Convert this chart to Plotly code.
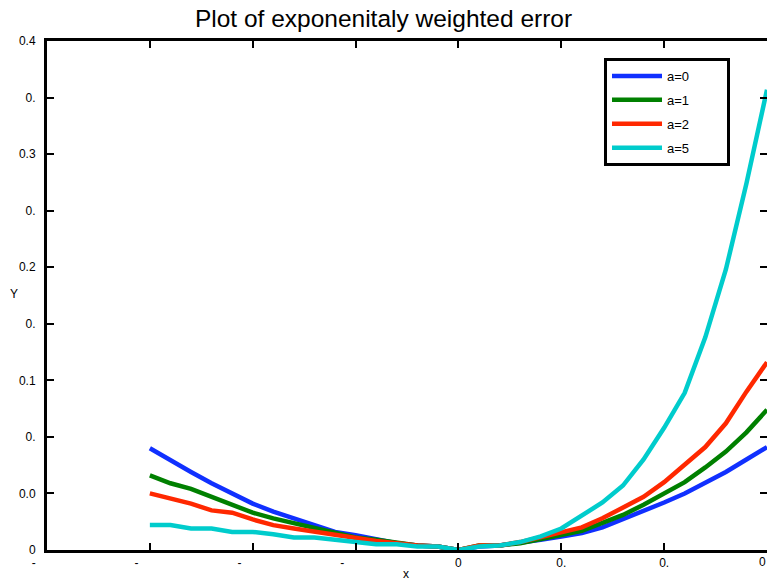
import plotly.graph_objects as go

# x grid: -0.6 .. 0.6 step 0.04 (31 points)
x_vals = [-0.60, -0.56, -0.52, -0.48, -0.44, -0.40, -0.36, -0.32, -0.28, -0.24,
          -0.20, -0.16, -0.12, -0.08, -0.04, 0.00, 0.04, 0.08, 0.12, 0.16,
          0.20, 0.24, 0.28, 0.32, 0.36, 0.40, 0.44, 0.48, 0.52, 0.56, 0.60]

y_a0 = [0.090, 0.079, 0.069, 0.059, 0.050, 0.041, 0.034, 0.028, 0.023, 0.016,
        0.013, 0.009, 0.006, 0.004, 0.003, 0.000, 0.003, 0.004, 0.006, 0.009,
        0.012, 0.015, 0.020, 0.027, 0.034, 0.042, 0.050, 0.059, 0.069, 0.080, 0.091]

y_a1 = [0.066, 0.059, 0.054, 0.047, 0.040, 0.033, 0.028, 0.024, 0.019, 0.015,
        0.011, 0.009, 0.006, 0.004, 0.003, 0.000, 0.004, 0.004, 0.006, 0.010,
        0.013, 0.017, 0.024, 0.031, 0.040, 0.050, 0.060, 0.073, 0.087, 0.104, 0.124]

y_a2 = [0.050, 0.046, 0.041, 0.035, 0.033, 0.027, 0.022, 0.019, 0.016, 0.013,
        0.011, 0.008, 0.006, 0.004, 0.003, 0.000, 0.004, 0.004, 0.007, 0.011,
        0.015, 0.020, 0.028, 0.037, 0.047, 0.060, 0.075, 0.091, 0.112, 0.140, 0.166]

y_a5 = [0.022, 0.022, 0.019, 0.019, 0.016, 0.016, 0.014, 0.011, 0.011, 0.009,
        0.007, 0.005, 0.005, 0.003, 0.003, 0.000, 0.003, 0.004, 0.007, 0.012,
        0.019, 0.031, 0.042, 0.057, 0.080, 0.108, 0.139, 0.188, 0.248, 0.324, 0.407]

series_names = ["a=0", "a=1", "a=2", "a=5"]
series_colors = ["#1030ff", "#008000", "#ff2800", "#00cccc"]

x_tickvals = [-0.8, -0.6, -0.4, -0.2, 0.0, 0.2, 0.4, 0.6]
NB = "\u00a0"
x_ticktext = ["-" + NB * 8, "-" + NB * 8, "-" + NB * 8, "-" + NB * 8, "0", "0.", "0.", "0"]

y_tickvals = [0.0, 0.05, 0.10, 0.15, 0.20, 0.25, 0.30, 0.35, 0.40, 0.45]
y_ticktext = ["0", "0.0", "0.", "0.1", "0.", "0.2", "0.", "0.3", "0.", "0.4"]

FONT = "Liberation Sans, Arial, sans-serif"

L, R, T, B = 47, 0, 41, 32
PW, PH = 767 - L - R, 582 - T - B

fig = go.Figure()
for name, ys, col in zip(series_names, [y_a0, y_a1, y_a2, y_a5], series_colors):
    fig.add_trace(go.Scatter(x=x_vals, y=ys, mode="lines", name=name + NB * 9,
                             legendgroup=name,
                             line=dict(color=col, width=4.5)))

# the last tick label sits at the window edge: draw it as right-anchored text
shown_ticktext = x_ticktext[:-1] + [""]

fig.update_layout(
    width=767, height=582,
    margin=dict(l=L, r=R, t=T, b=B, autoexpand=False),
    paper_bgcolor="white", plot_bgcolor="white",
    font=dict(family=FONT, size=12, color="black"),
    title=dict(text="Plot of exponenitaly weighted error", x=0.5, xref="container",
               xanchor="center", y=(582 - 18) / 582, yref="container", yanchor="middle",
               font=dict(family=FONT, size=24.5, color="black")),
    showlegend=True,
    legend=dict(x=(604 - L) / PW, y=(582 - B - 58) / PH, xanchor="left", yanchor="top",
                bordercolor="black", borderwidth=3, bgcolor="white",
                font=dict(family=FONT, size=13, color="black"),
                tracegroupgap=4, itemwidth=50),
    xaxis=dict(range=[-0.8, 0.6], tickvals=x_tickvals, ticktext=shown_ticktext,
               automargin=False,
               showgrid=False, zeroline=False, showline=True, linecolor="black",
               linewidth=3, mirror="ticks", ticks="inside", ticklen=7, tickwidth=2,
               tickcolor="black", tickangle=0,
               tickfont=dict(family=FONT, size=12, color="black")),
    yaxis=dict(range=[0, 0.45], tickvals=y_tickvals, ticktext=y_ticktext,
               automargin=False,
               showgrid=False, zeroline=False, showline=True, linecolor="black",
               linewidth=3, mirror="ticks", ticks="inside", ticklen=7, tickwidth=2,
               tickcolor="black", ticklabelstandoff=6,
               tickfont=dict(family=FONT, size=12, color="black")),
    annotations=[
        dict(text="Y", x=(14 - L) / PW, y=(582 - B - 294) / PH, xref="paper", yref="paper",
             xanchor="center", yanchor="middle",
             showarrow=False, font=dict(family=FONT, size=12, color="black")),
        dict(text="x", x=(406 - L) / PW, y=(582 - B - 574) / PH, xref="paper", yref="paper",
             xanchor="center", yanchor="middle",
             showarrow=False, font=dict(family=FONT, size=12, color="black")),
        dict(text=x_ticktext[-1], x=x_tickvals[-1], xref="x", y=(582 - B - 562) / PH,
             yref="paper", xanchor="right", yanchor="middle", xshift=1,
             showarrow=False, font=dict(family=FONT, size=12, color="black")),
    ],
)

fig.write_html("out.html", config={"displayModeBar": False},
               post_script="document.body.style.margin='0';document.body.style.padding='0';")
